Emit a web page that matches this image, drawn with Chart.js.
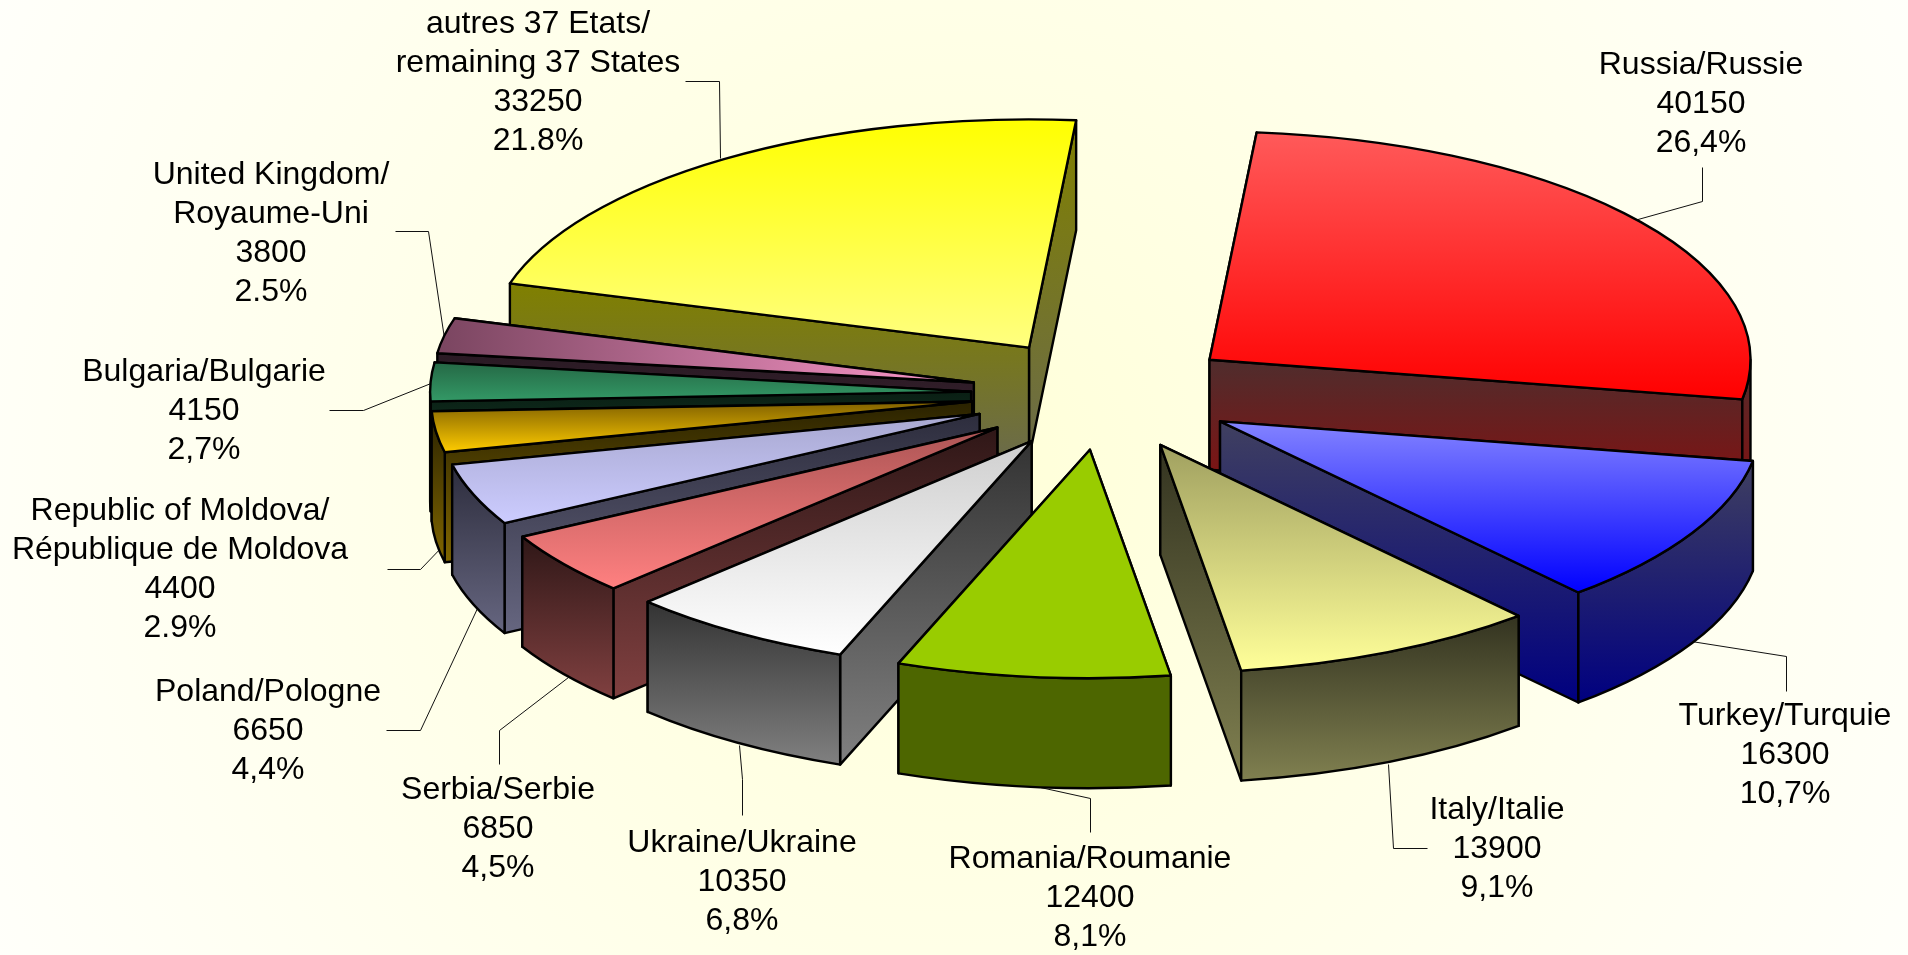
<!DOCTYPE html>
<html>
<head>
<meta charset="utf-8">
<title>Pie 3D</title>
<script src="https://cdn.jsdelivr.net/npm/chart.js@4/dist/chart.umd.js"></script>
<style>
    html, body { margin: 0; padding: 0; background: #fffff0; overflow: hidden; }
    canvas { display: block; }
</style>
</head>
<body>
<canvas id="pie" width="1908" height="955"></canvas>
<script>
// data, clockwise from the top
const categories = ['Russia/Russie', 'Turkey/Turquie', 'Italy/Italie', 'Romania/Roumanie', 'Ukraine/Ukraine',
    'Serbia/Serbie', 'Poland/Pologne', 'Republic of Moldova/|République de Moldova', 'Bulgaria/Bulgarie',
    'United Kingdom/|Royaume-Uni', 'autres 37 Etats/|remaining 37 States'];
const values = [40150, 16300, 13900, 12400, 10350, 6850, 6650, 4400, 4150, 3800, 33250];
const percents = ['26,4%', '10,7%', '9,1%', '8,1%', '6,8%', '4,5%', '4,4%', '2.9%', '2,7%', '2.5%', '21.8%'];

// colours of the top face and of the sides (from back to front)
const topFrom = ['#ff5a5a', '#8484ff', '#a0a060', '#99cc00', '#cfcfcf', '#ad5555', '#a8a8d0', '#806000', '#256845', '#7a4560', '#ffff00'];
const topTo = ['#ff0000', '#0000ff', '#ffff99', '#99cc00', '#ffffff', '#ff8080', '#ccccff', '#ffcc00', '#339966', '#ff99cc', '#ffff80'];
const sideFrom = ['#4f2d2d', '#404060', '#333320', '#4d6600', '#333333', '#2f1717', '#2d2d3d', '#2a2200', '#0a1f14', '#2a1a24', '#808000'];
const sideTo = ['#8a0c0c', '#000080', '#808050', '#4d6600', '#808080', '#804040', '#666680', '#806600', '#1a4d33', '#402633', '#6b6b4a'];
const horizontalTop = [false, false, false, false, false, false, false, false, false, true, false];

// label anchors: centre x, y of the first line
const labelX = [1701, 1785, 1497, 1090, 742, 498, 268, 180, 204, 271, 538];
const labelY = [65, 716, 810, 859, 843, 790, 692, 511, 372, 175, 24];
const leaders = [
    [[1702, 167], [1702, 201], [1634, 220]],
    [[1786, 691], [1786, 656], [1691, 641]],
    [[1427, 848], [1393, 848], [1388, 764]],
    [[1090, 832], [1090, 798], [1040, 787]],
    [[742, 815], [742, 779], [739, 745]],
    [[499, 764], [499, 730], [568, 677]],
    [[386, 730], [420, 730], [477, 608]],
    [[387, 569], [420, 569], [444, 544]],
    [[329, 410], [363, 410], [433, 382]],
    [[395, 231], [428, 231], [444, 338]],
    [[685, 81], [719, 81], [720, 158]]
];

const SQUASH = 0.422;    // tilt of the pie
const DEPTH = 110;       // height of the pie
const EXPLODE = 133;     // distance of the slices from the centre
const RADIUS = 541;
const LINE = 2.4;

function slicePoints(arc) {
    const p = arc.getProps(['x', 'y', 'startAngle', 'endAngle']);
    const mid = (p.startAngle + p.endAngle) / 2;
    const ax = p.x + Math.cos(mid) * EXPLODE;
    const ay = p.y + Math.sin(mid) * EXPLODE * SQUASH;
    return {
        x: p.x, y: p.y, ax: ax, ay: ay, mid: mid, start: p.startAngle, end: p.endAngle,
        px: a => ax + Math.cos(a) * RADIUS,
        py: a => ay + Math.sin(a) * RADIUS * SQUASH
    };
}

function vertical(ctx, y0, y1, from, to) {
    const g = ctx.createLinearGradient(0, y0, 0, y1);
    g.addColorStop(0, from);
    g.addColorStop(1, to);
    return g;
}

function paintFace(ctx, build, fill) {
    ctx.beginPath();
    build();
    ctx.closePath();
    ctx.fillStyle = fill;
    ctx.fill();
    ctx.lineWidth = LINE;
    ctx.strokeStyle = '#000';
    ctx.lineJoin = 'round';
    ctx.stroke();
}

function paintWall(ctx, s, a, i) {
    const x = s.px(a), y = s.py(a);
    const top = Math.min(s.ay, y), bottom = Math.max(s.ay, y) + DEPTH;
    paintFace(ctx, () => {
        ctx.moveTo(s.ax, s.ay);
        ctx.lineTo(x, y);
        ctx.lineTo(x, y + DEPTH);
        ctx.lineTo(s.ax, s.ay + DEPTH);
    }, vertical(ctx, top, bottom, sideFrom[i], sideTo[i]));
}

function paintRim(ctx, s, i) {
    // only the part of the rim turned towards the viewer
    const turns = Math.PI * 2;
    let from = null, to = null;
    for (let k = -1; k <= 1; k++) {
        const lo = Math.max(s.start, k * turns), hi = Math.min(s.end, k * turns + Math.PI);
        if (hi > lo) { from = lo; to = hi; }
    }
    if (from === null) return;
    let top = Infinity, bottom = -Infinity;
    [from, to, Math.PI / 2].forEach(a => {
        if (a < from || a > to) return;
        top = Math.min(top, s.py(a));
        bottom = Math.max(bottom, s.py(a));
    });
    paintFace(ctx, () => {
        ctx.ellipse(s.ax, s.ay, RADIUS, RADIUS * SQUASH, 0, from, to);
        ctx.ellipse(s.ax, s.ay + DEPTH, RADIUS, RADIUS * SQUASH, 0, to, from, true);
    }, vertical(ctx, top, bottom + DEPTH, sideFrom[i], sideTo[i]));
}

function paintTop(ctx, arc, s, i) {
    const ys = [s.ay, s.py(s.start), s.py(s.end)];
    const xs = [s.ax, s.px(s.start), s.px(s.end)];
    [-Math.PI / 2, Math.PI / 2, Math.PI * 1.5].forEach(a => {
        if (a > s.start && a < s.end) ys.push(s.py(a));
    });
    // the arc is drawn by the library, moved out and squashed with the context
    const chartY = y => s.y + (y - s.ay) / SQUASH;
    const chartX = x => x - (s.ax - s.x);
    const g = horizontalTop[i]
        ? ctx.createLinearGradient(chartX(Math.min(...xs)), 0, chartX(Math.max(...xs)), 0)
        : ctx.createLinearGradient(0, chartY(Math.min(...ys)), 0, chartY(Math.max(...ys)));
    g.addColorStop(0, topFrom[i]);
    g.addColorStop(1, topTo[i]);
    arc.options = Object.assign({}, arc.options, { backgroundColor: g, borderWidth: 0 });

    ctx.save();
    ctx.translate(s.ax - s.x, s.ay);
    ctx.scale(1, SQUASH);
    ctx.translate(0, -s.y);
    arc.draw(ctx);
    ctx.restore();

    ctx.beginPath();
    ctx.moveTo(s.ax, s.ay);
    ctx.ellipse(s.ax, s.ay, RADIUS, RADIUS * SQUASH, 0, s.start, s.end);
    ctx.closePath();
    ctx.lineWidth = LINE;
    ctx.strokeStyle = '#000';
    ctx.lineJoin = 'round';
    ctx.stroke();
}

const pie3d = {
    id: 'pie3d',
    beforeDraw(chart) {
        const ctx = chart.ctx;
        const g = ctx.createRadialGradient(954, 477, 0, 954, 477, 1070);
        g.addColorStop(0, '#ffffd8');
        g.addColorStop(1, '#fffffa');
        ctx.fillStyle = g;
        ctx.fillRect(0, 0, chart.width, chart.height);

        ctx.strokeStyle = '#111';
        ctx.lineWidth = 1;
        leaders.forEach(pts => {
            ctx.beginPath();
            pts.forEach((p, n) => n ? ctx.lineTo(p[0] + 0.5, p[1] + 0.5) : ctx.moveTo(p[0] + 0.5, p[1] + 0.5));
            ctx.stroke();
        });
    },
    beforeDatasetsDraw(chart) {
        const ctx = chart.ctx;
        const arcs = chart.getDatasetMeta(0).data;
        const slices = arcs.map((arc, i) => ({ arc: arc, i: i, s: slicePoints(arc) }));
        // back to front
        slices.sort((a, b) => Math.sin(a.s.mid) - Math.sin(b.s.mid));
        slices.forEach(o => {
            const walls = [o.s.start, o.s.end].sort((a, b) => o.s.py(a) - o.s.py(b));
            walls.forEach(a => paintWall(ctx, o.s, a, o.i));
            paintRim(ctx, o.s, o.i);
            paintTop(ctx, o.arc, o.s, o.i);
        });
        return false;
    },
    afterDraw(chart) {
        const ctx = chart.ctx;
        ctx.fillStyle = '#000';
        ctx.font = '32px "Liberation Sans", Arial, sans-serif';
        ctx.textAlign = 'center';
        ctx.textBaseline = 'middle';
        categories.forEach((name, i) => {
            const lines = name.split('|').concat([String(values[i]), percents[i]]);
            lines.forEach((t, n) => ctx.fillText(t, labelX[i], labelY[i] + n * 39));
        });
    }
};

new Chart(document.getElementById('pie').getContext('2d'), {
    type: 'pie',
    data: {
        labels: categories.map(c => c.replace('|', ' ')),
        datasets: [{
            data: values,
            radius: RADIUS,
            borderWidth: 0,
            hoverOffset: 0
        }]
    },
    options: {
        responsive: false,
        animation: false,
        events: [],
        rotation: 5,
        radius: RADIUS,
        layout: { padding: { left: 300, bottom: 167 } },
        plugins: { legend: { display: false }, tooltip: { enabled: false } }
    },
    plugins: [pie3d]
});
</script>
</body>
</html>
